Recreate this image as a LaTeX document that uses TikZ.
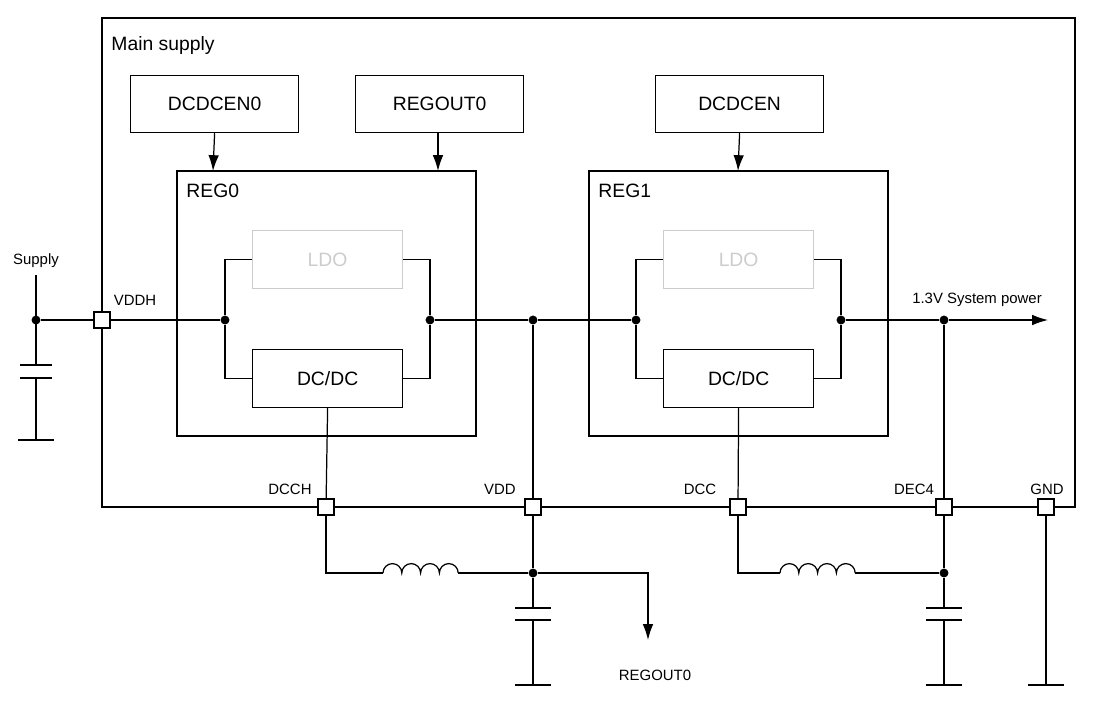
\documentclass[tikz,border=0pt]{standalone}
\usepackage{fontspec}
\setmainfont{Liberation Sans}
\usetikzlibrary{positioning, arrows.meta}
\tikzset{arrow/.style={-{Latex[length=9pt, width=6pt]}}}
\tikzset{blk/.style={draw, rectangle, anchor=north west, font=\fontsize{11}{13}\selectfont},
	pad/.style={draw, fill=white, rectangle, minimum size=9pt, inner sep=0pt},
	dot/.style={circle, fill, inner sep=1.8pt},
	lbl/.style={font=\fontsize{8.5}{10}\selectfont}}
\newcommand{\gnd}[1]{\draw ([xshift=-10pt]#1) -- ([xshift=10pt]#1);}
\begin{document}
\begin{tikzpicture}[x=0.02cm, y=-0.02cm, line width=0.7pt]
		\useasboundingbox (0,0) rectangle (1093,704);
		% main box
		\draw (102,18) rectangle (1075,507);
		\node [lbl, anchor=north west, font=\fontsize{11}{13}\selectfont] at (105,30) {Main supply};
		% control boxes
		\node (dcdcen0) [blk, minimum width=168*0.02cm, minimum height=57*0.02cm] at (130,75) {DCDCEN0};
		\node (regout0) [blk, minimum width=168*0.02cm, minimum height=57*0.02cm] at (355,75) {REGOUT0};
		\node (dcdcen) [blk, minimum width=168*0.02cm, minimum height=57*0.02cm] at (655,75) {DCDCEN};
		% regulators
		\draw (177,171) rectangle (476,436);
		\draw (589,171) rectangle (888,436);
		\node [anchor=north west, font=\fontsize{11}{13}\selectfont] at (180,178) {REG0};
		\node [anchor=north west, font=\fontsize{11}{13}\selectfont] at (592,178) {REG1};
		\node (ldo0) [blk, draw=gray!40, text=gray!40, minimum width=150*0.02cm, minimum height=58*0.02cm] at (252,230) {LDO};
		\node (dc0) [blk, minimum width=150*0.02cm, minimum height=58*0.02cm] at (252,349) {DC/DC};
		\node (ldo1) [blk, draw=gray!40, text=gray!40, minimum width=150*0.02cm, minimum height=58*0.02cm] at (663,230) {LDO};
		\node (dc1) [blk, minimum width=150*0.02cm, minimum height=58*0.02cm] at (663,349) {DC/DC};
		\draw [arrow] (dcdcen0.south) -- (213,171);
		\draw [arrow] (438,132) -- (438,171);
		\draw [arrow] (dcdcen.south) -- (738,171);

		% junctions and pads
		\node (sup) [dot] at (36,320) {};
		\node (vddh) [pad] at (102,320) {};
		\node (j0a) [dot] at (225,320) {};
		\node (j0b) [dot] at (430,320) {};
		\node (jvdd) [dot] at (533,320) {};
		\node (j1a) [dot] at (636,320) {};
		\node (j1b) [dot] at (841,320) {};
		\node (jsys) [dot] at (944,320) {};
		\coordinate (sysend) at (1048,320);
		\node (dcch) [pad] at (326,507) {};
		\node (vdd) [pad] at (533,507) {};
		\node (dcc) [pad] at (738,507) {};
		\node (dec4) [pad] at (944,507) {};
		\node (gnd) [pad] at (1046,507) {};
		\node (jout0) [dot] at (533,573) {};
		\node (jout1) [dot] at (944,573) {};

		% labels
		\node [lbl] at (36,261) {Supply};
		\node [lbl] at (135,300) {VDDH};
		\node [lbl] at (977,300) {1.3V System power};
		\node [lbl] at (290,489) {DCCH};
		\node [lbl] at (500,489) {VDD};
		\node [lbl] at (700,489) {DCC};
		\node [lbl] at (914,489) {DEC4};
		\node [lbl] at (1047,489) {GND};
		\node (regoutlbl) [lbl] at (655,675) {REGOUT0};

		% supply side
		\draw (36,275) -- (sup) -- (vddh) -- (j0a);
		\draw (36,275) -- (36,365) (36,378) -- (36,440);
		\draw (20,365) -- (52,365) (20,378) -- (52,378);
		\gnd{36,440}
		% REG0 internals
		\draw (j0a) |- (ldo0.west);
		\draw (j0a) |- (dc0.west);
		\draw (ldo0.east) -| (j0b);
		\draw (dc0.east) -| (j0b);
		\draw (j0b) -- (jvdd) -- (j1a);
		% REG1 internals
		\draw (j1a) |- (ldo1.west);
		\draw (j1a) |- (dc1.west);
		\draw (ldo1.east) -| (j1b);
		\draw (dc1.east) -| (j1b);
		\draw [arrow] (j1b) -- (jsys) -- (sysend);
		% verticals to pads
		\draw (dc0.south) -- (dcch);
		\draw (jvdd) -- (vdd);
		\draw (dc1.south) -- (dcc);
		\draw (jsys) -- (dec4);
		% DCCH inductor
		\draw (dcch) |- (383,573);
		\draw (383,573) arc (180:360:9.4) arc (180:360:9.4) arc (180:360:9.4) arc (180:360:9.4);
		\draw (458,573) -- (jout0);
		\draw (vdd) -- (jout0);
		\draw [arrow] (jout0) -| (648,640);
		\draw (jout0) -- (533,608) (533,620) -- (533,685);
		\draw (515,608) -- (551,608) (515,620) -- (551,620);
		\gnd{533,685}
		% DCC inductor
		\draw (dcc) |- (780,573);
		\draw (780,573) arc (180:360:9.4) arc (180:360:9.4) arc (180:360:9.4) arc (180:360:9.4);
		\draw (855,573) -- (jout1);
		\draw (dec4) -- (jout1);
		\draw (jout1) -- (944,608) (944,620) -- (944,685);
		\draw (926,608) -- (962,608) (926,620) -- (962,620);
		\gnd{944,685}
		% GND
		\draw (gnd) -- (1046,685);
		\gnd{1046,685}
	\end{tikzpicture}
\end{document}
